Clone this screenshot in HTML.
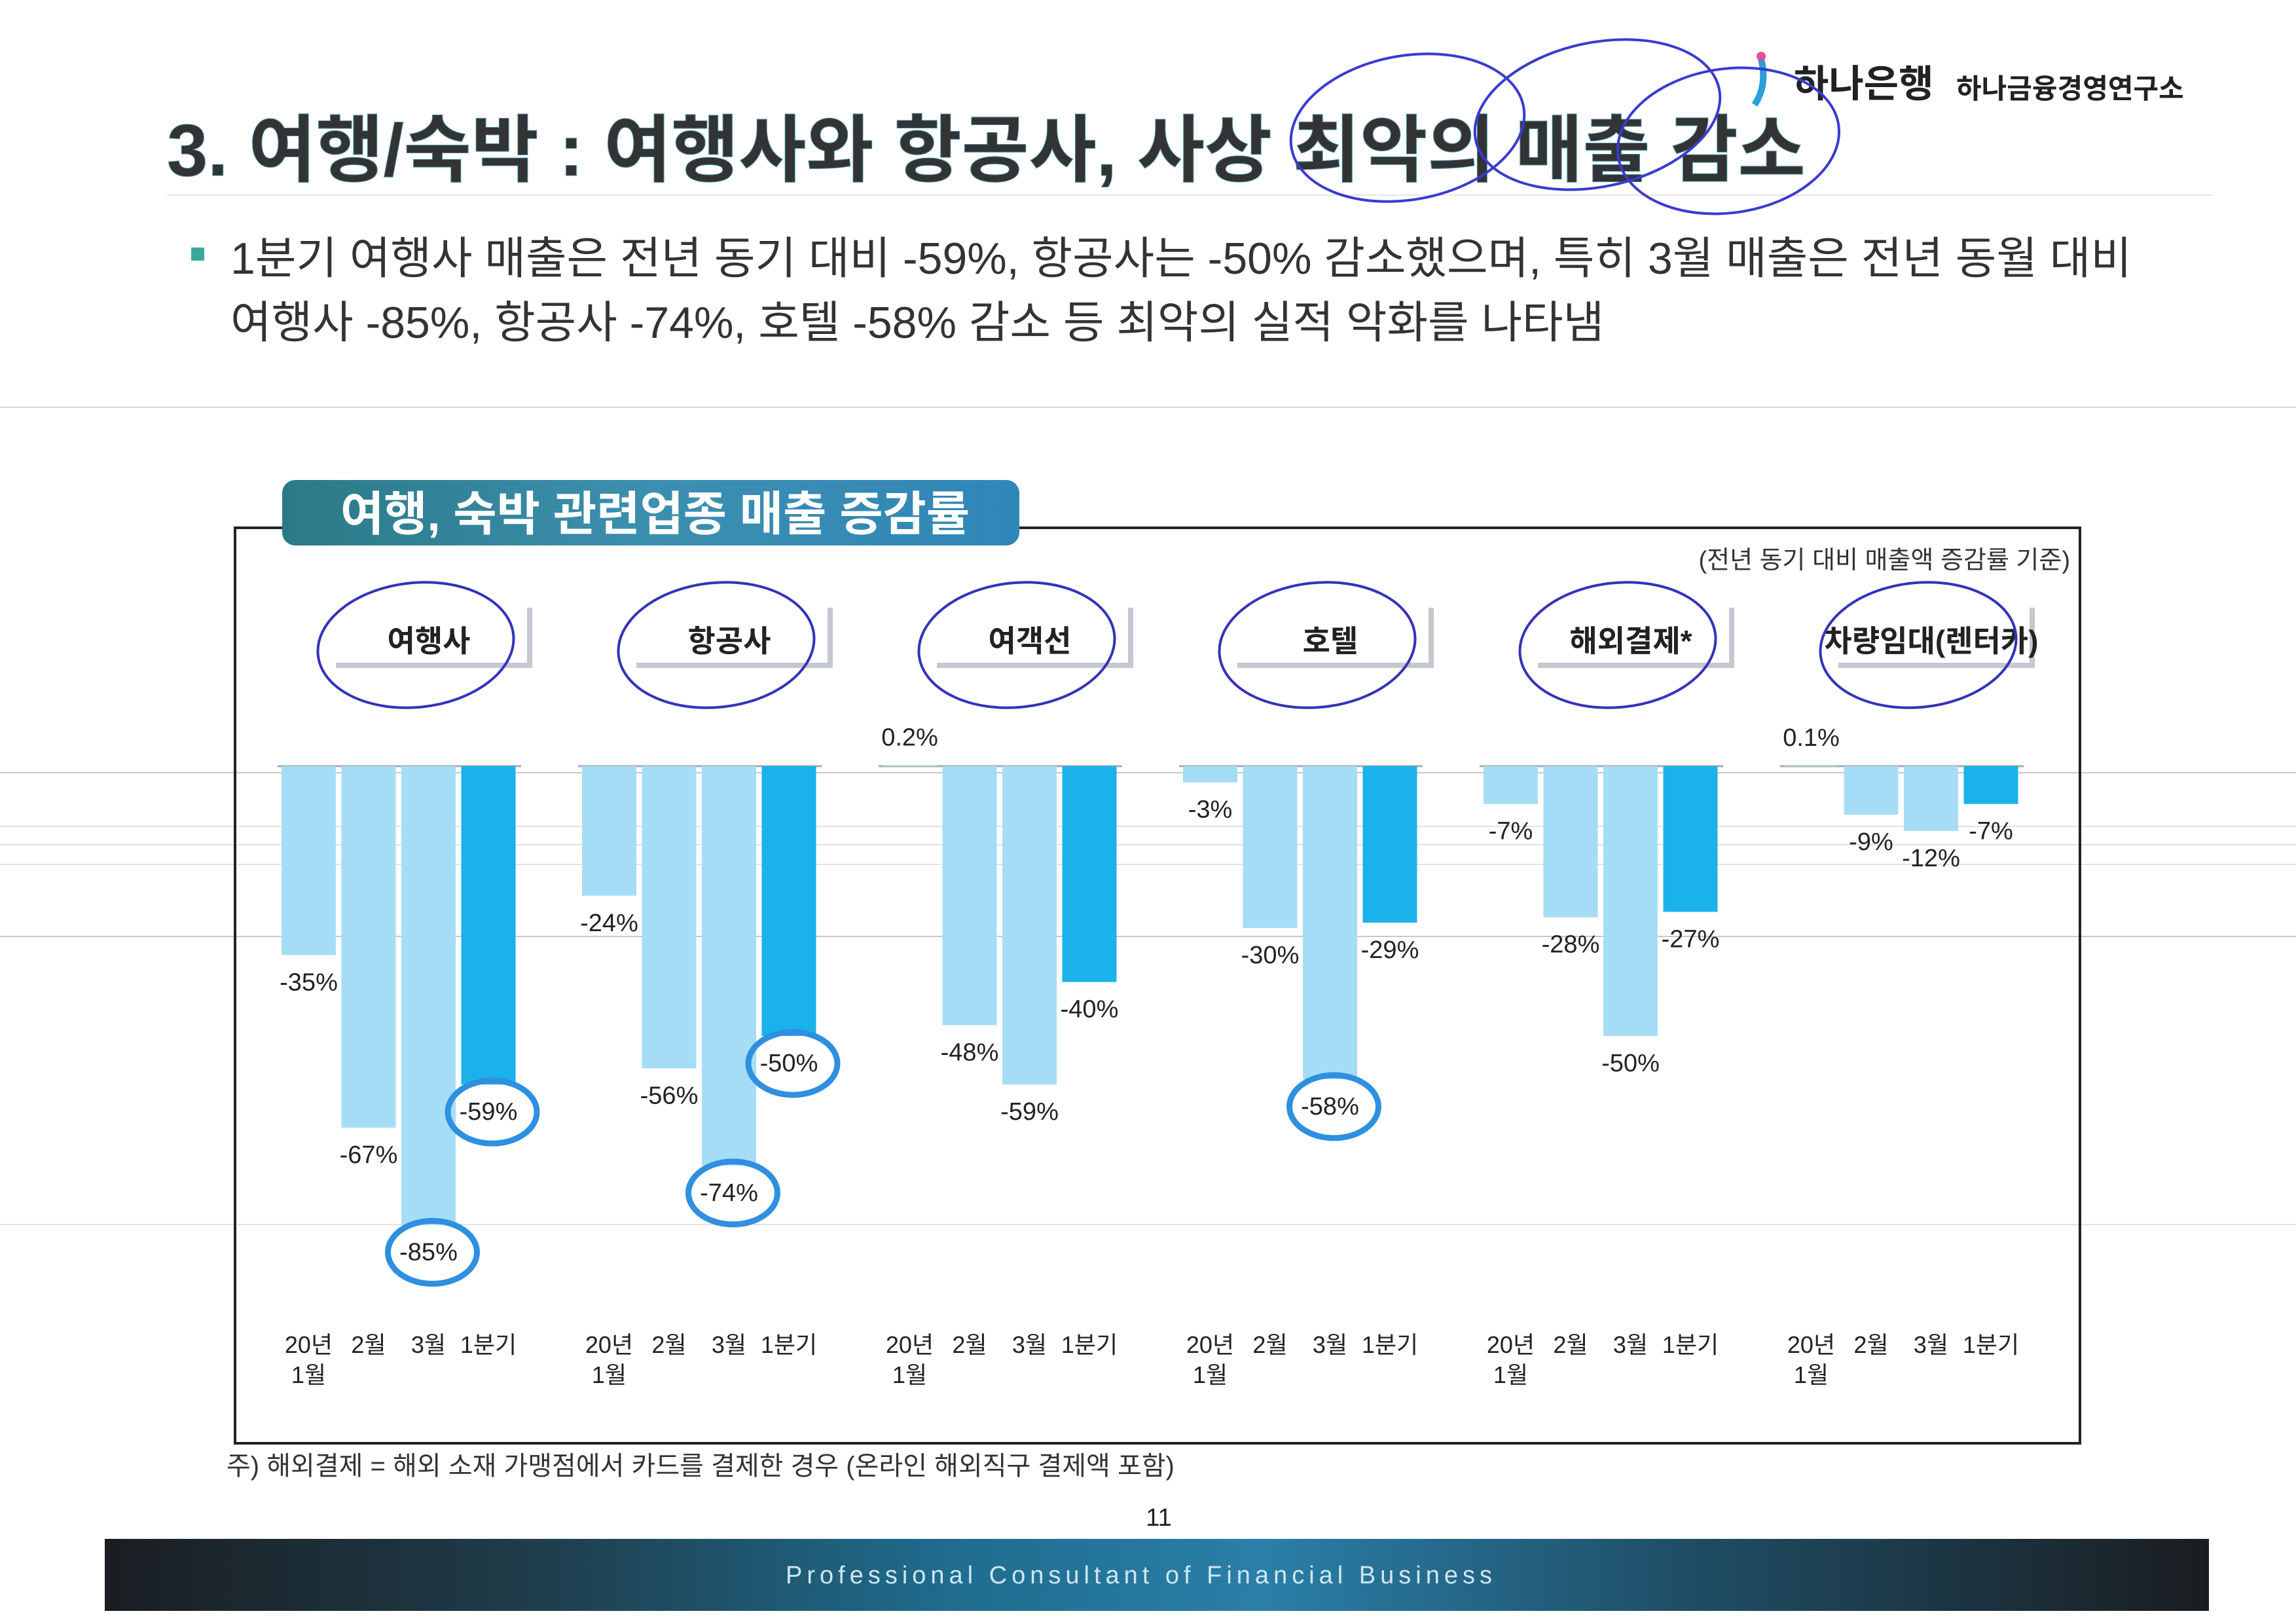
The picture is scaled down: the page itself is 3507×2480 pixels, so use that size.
<!DOCTYPE html>
<html><head><meta charset="utf-8">
<style>
html,body{margin:0;padding:0;background:#fff;}
svg{display:block;}
text{font-family:"Liberation Sans","Noto Sans CJK KR",sans-serif;}
</style></head>
<body>
<svg id="chart" width="3507" height="2480" viewBox="0 0 3507 2480" xmlns="http://www.w3.org/2000/svg">
<defs>
<linearGradient id="ban" x1="0" x2="1" y1="0" y2="0">
<stop offset="0" stop-color="#2a7a86"/><stop offset="0.5" stop-color="#3d8fb0"/><stop offset="1" stop-color="#2f86b8"/>
</linearGradient>
<linearGradient id="foot" x1="0" x2="1" y1="0" y2="0">
<stop offset="0" stop-color="#1a1e22"/><stop offset="0.2" stop-color="#1f3c4a"/><stop offset="0.4" stop-color="#1f6c8e"/><stop offset="0.55" stop-color="#2a7fa8"/><stop offset="0.75" stop-color="#1f4e66"/><stop offset="1" stop-color="#1a1d20"/>
</linearGradient>
</defs>
<g stroke="#d8d8d8" stroke-width="2">
<line x1="0" y1="622" x2="3507" y2="622"/>
<line x1="0" y1="1180" x2="3507" y2="1180" stroke="#c8c8c8"/>
<line x1="0" y1="1262" x2="3507" y2="1262" stroke="#e2e2e2"/>
<line x1="0" y1="1290" x2="3507" y2="1290" stroke="#e2e2e2"/>
<line x1="0" y1="1320" x2="3507" y2="1320" stroke="#e2e2e2"/>
<line x1="0" y1="1430" x2="3507" y2="1430" stroke="#c8c8c8"/>
<line x1="0" y1="1870" x2="3507" y2="1870" stroke="#e2e2e2"/>
</g>
<g>
<text x="255" y="268" font-size="112" font-weight="bold" fill="#333" stroke="#3a8aa0" stroke-width="1">3. 여행/숙박 : 여행사와 항공사, 사상 최악의 매출 감소</text>
<text x="2740" y="148" font-size="58" font-weight="bold" fill="#222">하나은행</text>
<text x="2988" y="150" font-size="42" font-weight="bold" fill="#222">하나금융경영연구소</text>
<path d="M2690 90 q10 40 -10 70" stroke="#2a9fd8" stroke-width="10" fill="none"/>
<circle cx="2690" cy="86" r="7" fill="#e0509a"/>
<line x1="255" y1="298" x2="3380" y2="298" stroke="#e6e6e6" stroke-width="2"/>
<rect x="292" y="378" width="20" height="20" fill="#3aa89a"/>
<text x="352" y="418" font-size="68" fill="#333">1분기 여행사 매출은 전년 동기 대비 -59%, 항공사는 -50% 감소했으며, 특히 3월 매출은 전년 동월 대비</text>
<text x="352" y="516" font-size="68" fill="#333">여행사 -85%, 항공사 -74%, 호텔 -58% 감소 등 최악의 실적 악화를 나타냄</text>
</g>
<g fill="none" stroke="#3a3ad0" stroke-width="4">
<ellipse cx="2150" cy="195" rx="180" ry="110" transform="rotate(-10 2150 195)"/>
<ellipse cx="2440" cy="175" rx="190" ry="110" transform="rotate(-12 2440 175)"/>
<ellipse cx="2640" cy="215" rx="170" ry="110" transform="rotate(-8 2640 215)"/>
</g>
<rect x="359" y="806" width="2818" height="1398" fill="none" stroke="#222" stroke-width="4"/>
<rect x="431" y="733" width="1126" height="100" rx="20" fill="url(#ban)"/>
<text x="520" y="810" font-size="72" font-weight="bold" fill="#fff">여행, 숙박 관련업종 매출 증감률</text>
<text x="3162" y="868" font-size="38" fill="#333" text-anchor="end">(전년 동기 대비 매출액 증감률 기준)</text>
<g id="marks"></g>
<text x="346" y="2252" font-size="40" fill="#333">주) 해외결제 = 해외 소재 가맹점에서 카드를 결제한 경우 (온라인 해외직구 결제액 포함)</text>
<text x="1770" y="2330" font-size="38" fill="#222" text-anchor="middle">11</text>
<rect x="160" y="2350" width="3214" height="110" fill="url(#foot)"/>
<text x="1200" y="2458" font-size="38" fill="#cfe6f0" letter-spacing="7" dy="-40">Professional Consultant of Financial Business</text>
</svg>
<script>
const categories = ['여행사','항공사','여객선','호텔','해외결제*','차량임대(렌터카)'];
const periods = ['20년|1월','2월','3월','1분기'];
const jan = [-35,-24,0.2,-3,-7,0.1];
const feb = [-67,-56,-48,-30,-28,-9];
const mar = [-85,-74,-59,-58,-50,-12];
const q1 = [-59,-50,-40,-29,-27,-7];
const circledLabels = [[2,3],[2,3],[],[2],[],[]];

const NS='http://www.w3.org/2000/svg';
const g=document.getElementById('marks');
const baseY=1170, pxPerPct=8.24;
const y=v=>baseY-v*pxPerPct;
const groupX=i=>430+i*459;
const barX=(i,j)=>groupX(i)+j*91.5;
const barW=83;
function mk(tag,attrs){const e=document.createElementNS(NS,tag);for(const k in attrs)e.setAttribute(k,attrs[k]);g.appendChild(e);return e;}
const series=[jan,feb,mar,q1];
for(let i=0;i<categories.length;i++){
  const cx=groupX(i)+225;
  const sh=mk('rect',{x:cx-150+8,y:928,width:300,height:92,fill:'#c4c8d0'});
  
  
  const bx=mk('rect',{x:cx-150,y:920,width:300,height:92,fill:'#fff'});
  
  
  const ct=mk('text',{x:cx,y:995,'font-size':46,'font-weight':'bold','text-anchor':'middle',fill:'#222'});
  ct.textContent=categories[i];
  
  
  const el=mk('ellipse',{cx:cx-20,cy:985,rx:150,ry:95,fill:'none',stroke:'#3333bb','stroke-width':4,transform:'rotate(-6 '+(cx-20)+' 985)'});
  
  
  const ax=mk('line',{x1:groupX(i)-6,y1:baseY,x2:groupX(i)+4*91.5,y2:baseY,stroke:'#aaa','stroke-width':3});
  
  
  for(let j=0;j<4;j++){
    const v=series[j][i];
    const x=barX(i,j);
    const top=Math.min(y(v),y(0)), h=Math.abs(y(v)-y(0));
    const r=mk('rect',{x:x,y:top,width:barW,height:Math.max(h,1),fill:j===3?'#1bb2ec':'#a6ddf6'});
    
    
    const ly=v>=0? y(v)-30 : y(v)+54;
    const t=mk('text',{x:x+barW/2,y:ly,'font-size':38,'text-anchor':'middle',fill:'#222'});
    t.textContent=v+'%';
    
    
    if(circledLabels[i].indexOf(j)>=0){
      const c=mk('ellipse',{cx:x+barW/2+6,cy:ly-12,rx:68,ry:48,fill:'none',stroke:'#2f8fe0','stroke-width':9});
      
      
    }
    const parts=periods[j].split('|');
    parts.forEach((p,k)=>{
      const pt=mk('text',{x:x+barW/2,y:2066+k*46,'font-size':36,'text-anchor':'middle',fill:'#222'});
      pt.textContent=p;
      
      
    });
  }
}
</script>
</body></html>
